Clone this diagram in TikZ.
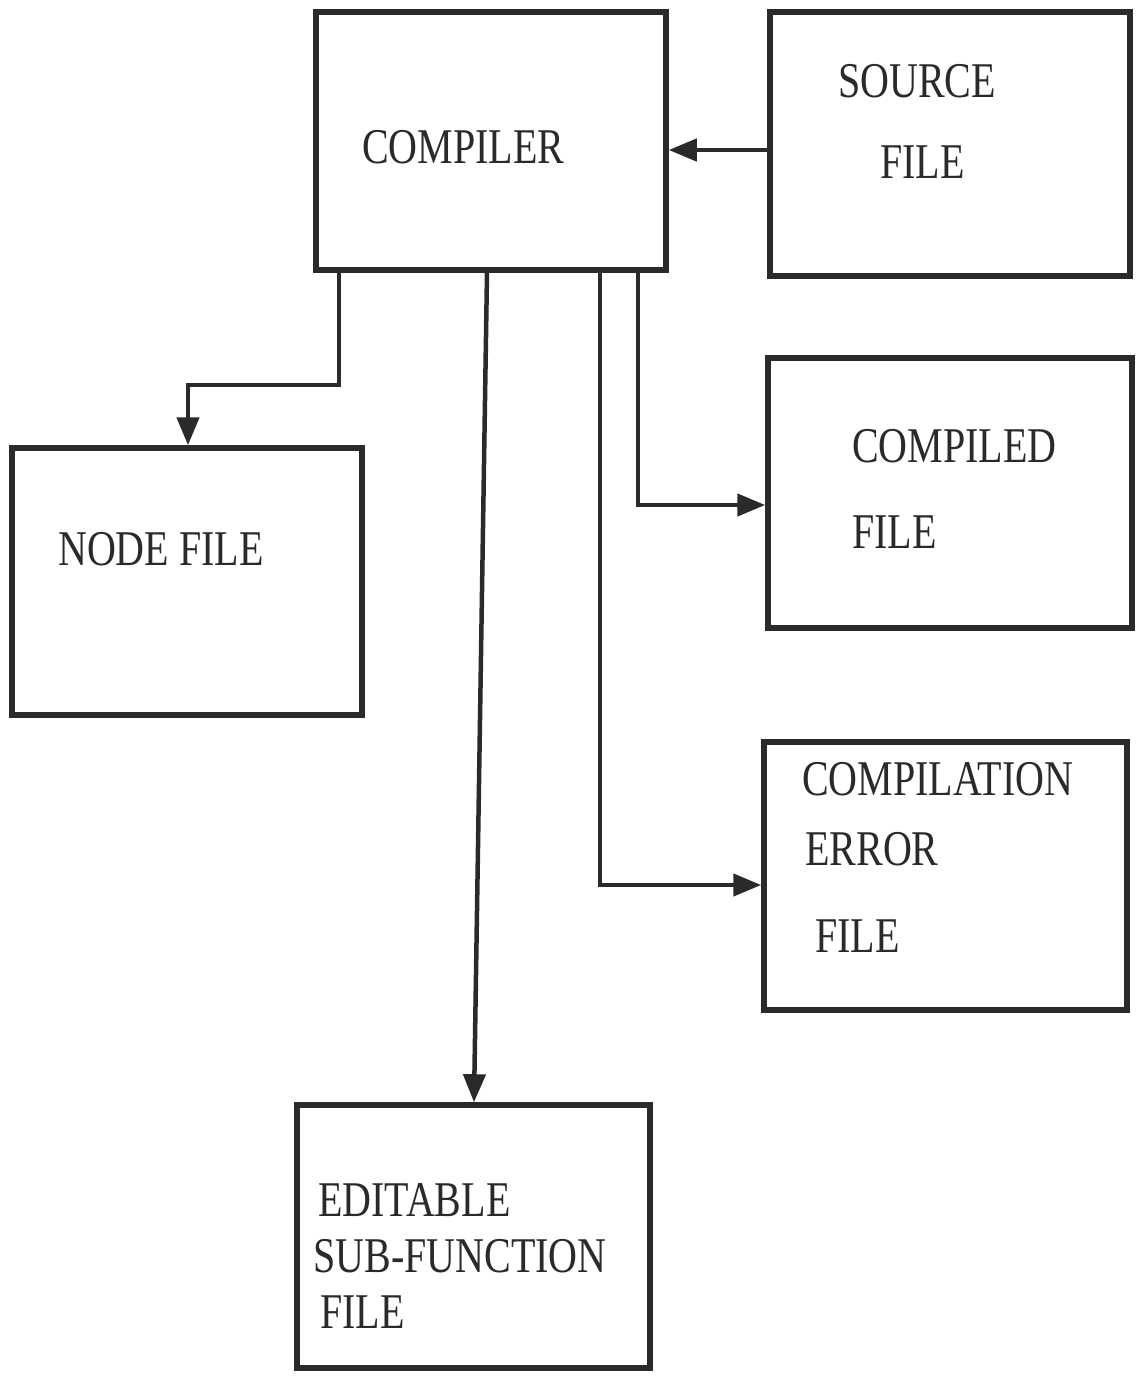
\documentclass[tikz,border=0pt]{standalone}
\usepackage{fontspec}
\setmainfont{Liberation Serif}
\newfontfamily\lblfont[FakeStretch=0.8]{Liberation Serif}
\usetikzlibrary{arrows.meta,calc}
\definecolor{ink}{HTML}{2A2A2A}
\begin{document}
\begin{tikzpicture}[x=1pt,y=-1pt,
  box/.style={draw=ink,line width=5.5pt,rectangle,inner sep=0pt},
  lbl/.style={font=\lblfont\fontsize{50}{60}\selectfont,text=ink,anchor=base west,inner sep=0pt},
  conn/.style={draw=ink,line width=4.5pt},
  arr/.style={conn,-{Triangle[length=28pt,width=22pt]}}]
\fill[white] (0,0) rectangle (1137,1377);
\useasboundingbox (0,0) rectangle (1137,1377);
% boxes
\node[box,minimum width=350pt,minimum height=258pt] (comp) at (491,141) {};
\node[box,minimum width=360pt,minimum height=264pt] (src) at (950,144) {};
\node[box,minimum width=350pt,minimum height=267pt] (nodef) at (187,581.5) {};
\node[box,minimum width=364pt,minimum height=270pt] (compd) at (950,493) {};
\node[box,minimum width=363pt,minimum height=268pt] (err) at (945.5,876) {};
\node[box,minimum width=353pt,minimum height=263pt] (edit) at (473.5,1236.5) {};
% labels
\node[lbl] (tcomp) at (362,163) {COMPILER};
\node[lbl] (tsrc1) at (838,97) {SOURCE};
\node[lbl] (tsrc2) at (880,178) {FILE};
\node[lbl] (tnode) at (58,565) {NODE FILE};
\node[lbl] (tcd1) at (852,462) {COMPILED};
\node[lbl] (tcd2) at (852,548) {FILE};
\node[lbl] (ter1) at (802,795) {COMPILATION};
\node[lbl] (ter2) at (805,865) {ERROR};
\node[lbl] (ter3) at (815,952) {FILE};
\node[lbl] (ted1) at (318,1216) {EDITABLE};
\node[lbl] (ted2) at (313,1272) {SUB-FUNCTION};
\node[lbl] (ted3) at (320,1328) {FILE};
% connectors
\draw[arr] (src.west |- 0,150) -- (comp.east |- 0,150);
\coordinate (bendn) at (188,385);
\draw[arr] (comp.south -| 339,0) |- (bendn) -- (nodef.north -| bendn);
\draw[arr] (comp.south -| 638,0) |- (compd.west |- 0,505);
\draw[arr] (comp.south -| 600,0) |- (err.west |- 0,885);
\draw[arr] (comp.south -| 487,0) -- (edit.north -| 474,0);
\end{tikzpicture}
\end{document}
